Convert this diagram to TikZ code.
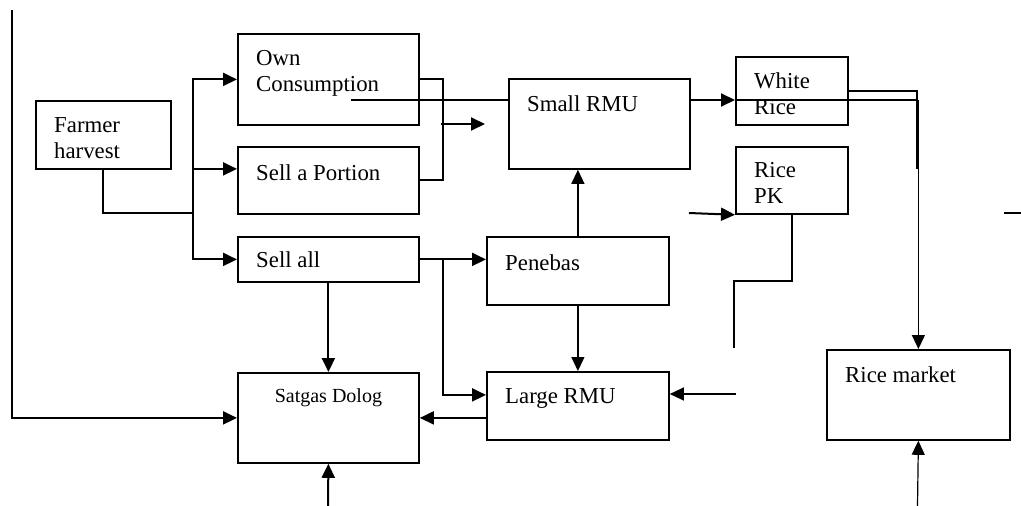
\documentclass[tikz,border=0pt]{standalone}
\usepackage{fontspec}
\setmainfont{Liberation Serif}
\usetikzlibrary{arrows.meta,positioning}

\begin{document}
\begin{tikzpicture}[x=1pt, y=-1pt, >={Triangle[length=14pt,width=13pt]},
  box/.style={draw, line width=1.8pt, anchor=north west, inner sep=0pt},
  tag/.style={anchor=north west, inner sep=0pt, align=left, font=\fontsize{22.8}{26.5}\selectfont},
  pad/.style={xshift=19pt, yshift=-17pt},
  link/.style={line width=2pt},
  thin link/.style={line width=1.2pt}]
\useasboundingbox (0,0) rectangle (1021,506);
% boxes
\node[box, minimum width=135pt, minimum height=68pt, label={[tag, pad]north west:Farmer\\harvest}] (farmer) at (35,100) {};
\node[box, minimum width=181pt, minimum height=91pt, label={[tag, pad]north west:Own\\Consumption}] (own) at (237,33) {};
\node[box, minimum width=181pt, minimum height=67pt, label={[tag, pad, yshift=-1pt]north west:Sell a Portion}] (portion) at (237,146) {};
\node[box, minimum width=181pt, minimum height=45pt, label={[tag, pad, yshift=2pt]north west:Sell all}] (sellall) at (237,236) {};
\node[box, minimum width=181pt, minimum height=90pt, label={[tag, anchor=north, yshift=-16pt, font=\fontsize{20}{24}\selectfont]north:Satgas Dolog}] (dolog) at (237,372) {};
\node[box, minimum width=181pt, minimum height=90pt, label={[tag, pad]north west:Small RMU}] (smallrmu) at (508,78) {};
\node[box, minimum width=182pt, minimum height=68pt, label={[tag, pad, yshift=-1pt]north west:Penebas}] (penebas) at (486,236) {};
\node[box, minimum width=182pt, minimum height=68pt, label={[tag, pad]north west:Large RMU}] (largermu) at (486,371) {};
\node[box, minimum width=112pt, minimum height=68pt, label={[tag, pad, yshift=1pt]north west:White\\Rice}] (white) at (735,56) {};
\node[box, minimum width=112pt, minimum height=67pt, label={[tag, pad, yshift=1pt]north west:Rice\\PK}] (ricepk) at (735,146) {};
\node[box, minimum width=183pt, minimum height=90pt, label={[tag, pad]north west:Rice market}] (market) at (826,349) {};
% farmer harvest split
\coordinate (fork) at (193,213);
\draw[link] (farmer.south) |- (fork);
\draw[link,->] (fork) |- (own.west);
\draw[link,->] (fork) |- ([yshift=11.5pt]portion.west);
\draw[link,->] (fork) |- (sellall.west);
% own consumption and sell a portion
\coordinate (merge) at (441,124);
\coordinate (mergeto) at (485,124);
\draw[link] (own.east) -- ++(23,0) |- (portion.east);
\draw[link,->] (merge) -- (mergeto);
% long line to the market
\coordinate (cut) at (351,100);
\draw[link] (cut) -- (cut -| smallrmu.west);
\draw[link,->] (cut -| smallrmu.east) -- (cut -| white.west);
\draw[link] (cut -| white.west) -- (cut -| market.north);
\draw[thin link,->] (cut -| market.north) -- (market.north);
\draw[link] (white.east) -- ++(68,0) -- ++(0,78);
% penebas
\draw[thin link,->] (penebas.north) -- (penebas.north |- smallrmu.south);
\draw[thin link,->] (penebas.south) -- (largermu.north);
% sell all
\draw[link,->] (sellall.east) -- (sellall.east -| penebas.west);
\draw[link,->] (sellall.east) -- ++(23,0) |- ([yshift=11pt]largermu.west);
\draw[link,->] (sellall.south) -- (dolog.north);
\draw[link,->] (largermu.west |- dolog.east) -- (dolog.east);
% satgas dolog inputs
\coordinate (edge) at (12,10);
\coordinate (dologin) at (328,506);
\draw[link,->] (edge) |- (dolog.west);
\draw[link,->] (dologin) -- (dolog.south);
% right side
\coordinate (largein) at (736,394);
\draw[thin link,->] (largein) -- (largein -| largermu.east);
\coordinate (pkin) at (689,213);
\draw[link,->] (pkin) -- (ricepk.south west);
\draw[link] (ricepk.south) |- (734,281) -- (734,348);
\coordinate (stub) at (1004,213);
\draw[link] (stub) -- ++(17,0);
\coordinate (marketin) at (917.5,506);
\draw[thin link,->] (marketin) -- (market.south);
\end{tikzpicture}
\end{document}
